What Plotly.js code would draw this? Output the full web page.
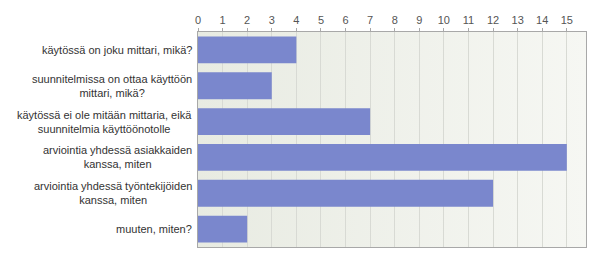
<!DOCTYPE html>
<html><head><meta charset="utf-8">
<script src="https://cdn.plot.ly/plotly-3.0.1.min.js"></script>
<style>body{margin:0;background:#fff}#c{width:600px;height:262px}</style>
</head><body><div id="c"></div>
<script>
const categories = [
  "käytössä on joku mittari, mikä?",
  "suunnitelmissa on ottaa käyttöön<br>mittari, mikä?",
  "käytössä ei ole mitään mittaria, eikä<br>suunnitelmia käyttöönotolle",
  "arviointia yhdessä asiakkaiden<br>kanssa, miten",
  "arviointia yhdessä työntekijöiden<br>kanssa, miten",
  "muuten, miten?"
];
const values = [4, 3, 7, 15, 12, 2];
const tickVals = [0,1,2,3,4,5,6,7,8,9,10,11,12,13,14,15];

const bgSvg = "<svg xmlns='http://www.w3.org/2000/svg' width='100' height='10' preserveAspectRatio='none'><defs><linearGradient id='g' x1='0' x2='1' y1='0' y2='0'><stop offset='0' stop-color='#e8ebe2'/><stop offset='1' stop-color='#f6f7f3'/></linearGradient></defs><rect width='100' height='10' fill='url(#g)'/></svg>";

const annotations = categories.map((c) => ({
  xref: 'paper', yref: 'y', x: 0, y: c, xanchor: 'right', xshift: -4,
  text: c, showarrow: false, align: 'center',
  font: {size: 11, color: '#333'}
}));

Plotly.newPlot('c', [{
  type: 'bar', orientation: 'h',
  x: values, y: categories,
  marker: {color: '#7a87cd', line: {width: 0}},
  hoverinfo: 'none'
}], {
  width: 600, height: 262,
  margin: {l: 198, r: 14, t: 32, b: 15},
  paper_bgcolor: '#ffffff', plot_bgcolor: '#eef0ea',
  bargap: 0.25,
  showlegend: false,
  font: {family: 'Liberation Sans, Arial, sans-serif', size: 11, color: '#333'},
  images: [{
    source: 'data:image/svg+xml;charset=utf-8,' + encodeURIComponent(bgSvg),
    xref: 'paper', yref: 'paper', x: 0, y: 1, sizex: 1, sizey: 1,
    sizing: 'stretch', layer: 'below', xanchor: 'left', yanchor: 'top'
  }],
  annotations: annotations,
  xaxis: {
    side: 'top', range: [0, 15.78], tickvals: tickVals,
    showgrid: true, gridcolor: '#d8dad4', gridwidth: 1,
    zeroline: false, showline: true, linecolor: '#a8a8a8', mirror: true,
    ticks: 'outside', ticklen: 3, tickcolor: '#a8a8a8',
    tickfont: {size: 11, color: '#555'}, fixedrange: true
  },
  yaxis: {
    autorange: 'reversed', showgrid: false, zeroline: false,
    showline: true, linecolor: '#a8a8a8', mirror: true,
    ticks: '', showticklabels: false, fixedrange: true
  }
}, {displayModeBar: false, staticPlot: true});
</script></body></html>
